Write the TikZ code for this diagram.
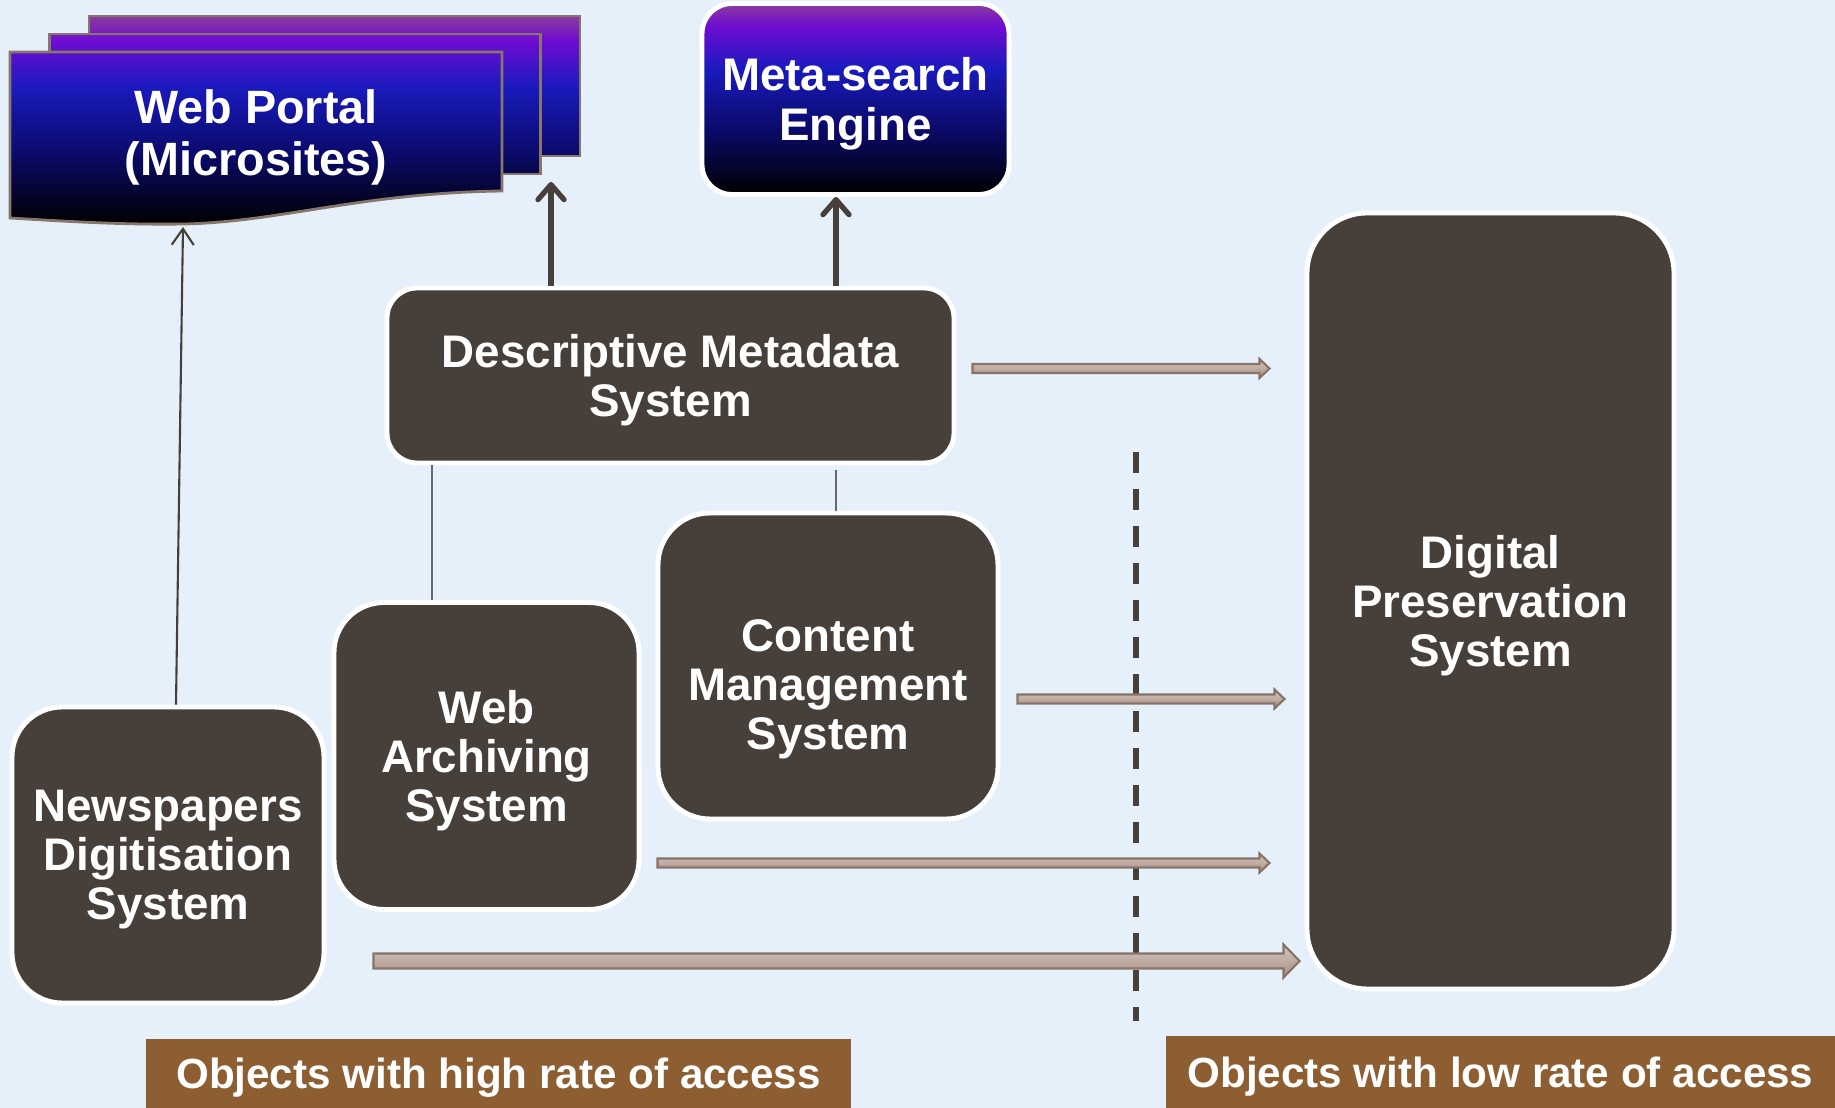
\documentclass[tikz,border=0pt]{standalone}
\usepackage{fontspec}
\setmainfont{Liberation Sans}
\usetikzlibrary{arrows.meta,calc}

\definecolor{bgblue}{RGB}{230,240,250}
\definecolor{boxbrown}{RGB}{71,63,58}
\definecolor{labelbrown}{RGB}{140,94,50}
\definecolor{sheetedge}{RGB}{135,118,108}
\definecolor{linkgrey}{RGB}{105,105,105}
\definecolor{tanlight}{RGB}{214,198,188}
\definecolor{tanmid}{RGB}{190,172,162}
\definecolor{tandark}{RGB}{158,140,132}
\definecolor{tanedge}{RGB}{135,115,104}
\definecolor{pmagenta}{RGB}{140,60,156}
\definecolor{pviolet}{RGB}{110,12,210}
\definecolor{pblue}{RGB}{26,26,190}
\definecolor{pnavy}{RGB}{10,10,105}

\pgfdeclareverticalshading{portalshade}{100bp}{color(0bp)=(black); color(25bp)=(black);
  color(42bp)=(pnavy); color(58bp)=(pblue); color(69bp)=(pviolet);
  color(75bp)=(pmagenta); color(100bp)=(pmagenta)}

\tikzset{
  sysbox/.style={draw=white, line width=1.4pt, fill=boxbrown, text=white, align=center,
    text depth=0pt, font=\fontsize{13}{14}\selectfont\bfseries},
  sheet/.style={draw=sheetedge, line width=0.8pt,
    path picture={\shade[shading=portalshade] (0,8.84) rectangle (6,10.92);}},
  portaltext/.style={text=white, align=center, text depth=0pt,
    font=\fontsize{13.3}{14.8}\selectfont\bfseries},
  uparrow/.style={draw=boxbrown, line width=1.5pt, -{Straight Barb[length=1.5mm,width=2.6mm,round]}},
  thinarrow/.style={draw=boxbrown, line width=0.6pt, -{Straight Barb[length=1.6mm,width=2.2mm]}},
  link/.style={draw=linkgrey, line width=0.6pt},
  divider/.style={draw=boxbrown, line width=1.5pt, dash pattern=on 0.21cm off 0.16cm},
  flow/.style={draw=tanedge, line width=0.6pt, top color=tanlight, bottom color=tandark,
    middle color=tanmid},
  ratelabel/.style={fill=labelbrown, text=white, inner sep=0pt, text depth=0pt,
    font=\fontsize{12}{13}\selectfont\bfseries}
}

% block arrow: start, end, half shaft, half head, head length
\newcommand{\flowarrow}[5]{%
  \draw[flow] let \p1=(#1), \p2=(#2) in
    (\x1,\y1+#3) -- (\x2-#5,\y1+#3) -- (\x2-#5,\y1+#4) -- (\x2,\y1)
    -- (\x2-#5,\y1-#4) -- (\x2-#5,\y1-#3) -- (\x1,\y1-#3) -- cycle;}

\begin{document}
\begin{tikzpicture}
	\useasboundingbox (0,0) rectangle (18.35,11.08);
	\fill[bgblue] (0,0) rectangle (18.35,11.08);

	% web portal (three sheets)
	\foreach \s in {2,1}
		\draw[sheet] (0.10+0.395*\s,9.16+0.18*\s) rectangle ++(4.91,1.40);
	\draw[sheet] (0.10,8.90) -- (0.10,10.56) -- (5.02,10.56) -- (5.02,9.17)
		.. controls (3.6,9.15) and (2.8,8.86) .. (1.84,8.84)
		.. controls (1.2,8.83) and (0.6,8.87) .. (0.10,8.90) -- cycle;
	\node[portaltext] (portal) at (2.56,9.75) {Web Portal\\(Microsites)};

	\node[sysbox, shade, shading=portalshade, rounded corners=0.3cm,
		minimum width=3.07cm, minimum height=1.91cm] (mse) at (8.555,10.09) {Meta-search\\Engine};
	\node[sysbox, rounded corners=0.3cm, minimum width=5.67cm, minimum height=1.75cm]
		(dms) at (6.705,7.325) {Descriptive Metadata\\System};
	\node[sysbox, rounded corners=0.6cm, minimum width=3.67cm, minimum height=7.76cm]
		(dps) at (14.905,5.07) {Digital\\Preservation\\System};
	\node[sysbox, rounded corners=0.52cm, minimum width=3.40cm, minimum height=3.06cm,
		text height=47.8pt] (cms) at (8.28,4.42) {Content\\Management\\System};
	\node[sysbox, rounded corners=0.5cm, minimum width=3.05cm, minimum height=3.07cm]
		(was) at (4.865,3.52) {Web\\Archiving\\System};
	\node[sysbox, rounded corners=0.5cm, minimum width=3.12cm, minimum height=2.96cm]
		(nds) at (1.68,2.53) {Newspapers\\Digitisation\\System};

	\node[ratelabel, minimum width=7.05cm, minimum height=0.69cm] (high) at (4.985,0.345)
		{Objects with high rate of access};
	\node[ratelabel, minimum width=6.69cm, minimum height=0.72cm] (low) at (15.005,0.36)
		{Objects with low rate of access};

	% arrows up
	\coordinate (portal-in) at (1.83,8.81);
	\coordinate (stack-in) at (5.51,9.26);
	\coordinate (mse-in) at (8.36,9.11);
	\draw[thinarrow] ($(nds.north)+(0.08,0)$) -- (portal-in);
	\draw[uparrow] (dms.north -| stack-in) -- (stack-in);
	\draw[uparrow] (dms.north -| mse-in) -- (mse-in);

	% links
	\draw[link] ($(dms.south west)+(0.475,0)$) coordinate (l1) -- (l1 |- was.north);
	\draw[link, shorten <=0.05cm] (dms.south -| mse-in) -- (cms.north -| mse-in);

	\draw[divider] (11.36,6.56) -- (11.36,0.87);

	% to preservation
	\flowarrow{$(dms.east)+(0.16,0.07)$}{$(dps.west)+(-0.35,0)$}{0.045cm}{0.095cm}{0.1cm}
	\flowarrow{$(cms.east)+(0.17,-0.33)$}{$(dps.west)+(-0.20,0)$}{0.045cm}{0.095cm}{0.1cm}
	\flowarrow{$(was.east)+(0.16,-1.07)$}{$(dps.west)+(-0.35,0)$}{0.045cm}{0.095cm}{0.1cm}
	\flowarrow{$(nds.east)+(0.47,-1.06)$}{$(dps.west)+(-0.05,0)$}{0.075cm}{0.165cm}{0.16cm}
\end{tikzpicture}
\end{document}
